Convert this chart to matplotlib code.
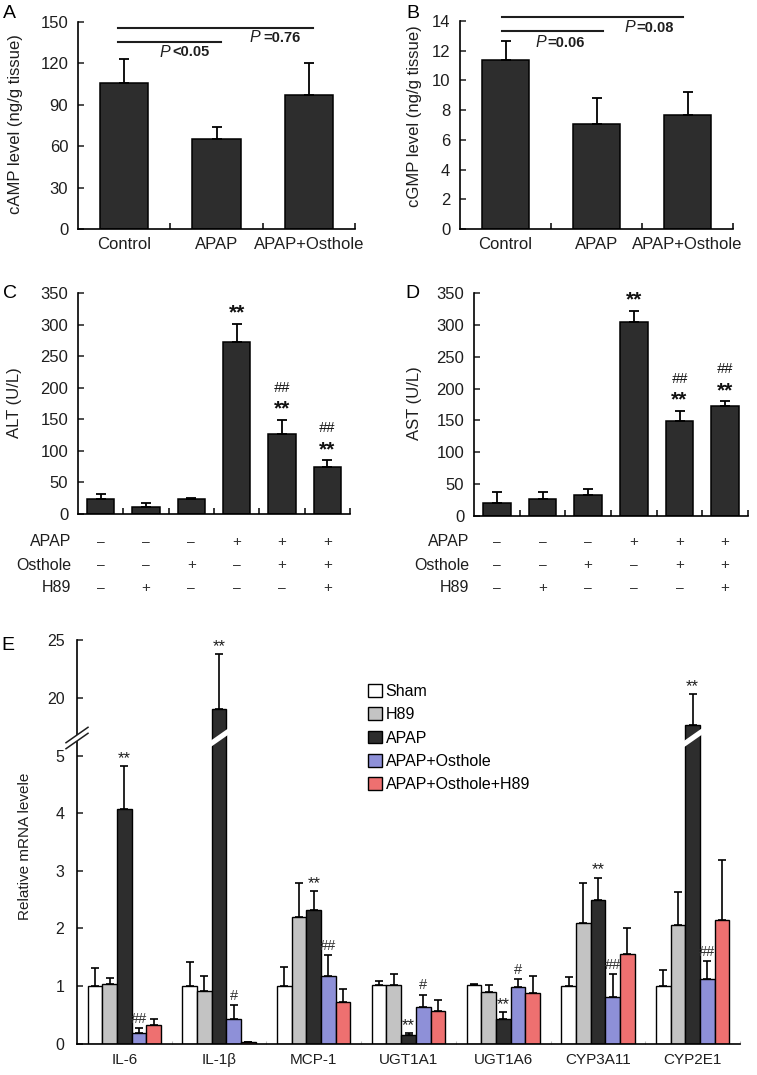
import numpy as np
import matplotlib
matplotlib.use("Agg")
import matplotlib.pyplot as plt
from matplotlib.patches import Patch, Polygon
from matplotlib.lines import Line2D

plt.rcParams['font.family'] = ['Liberation Sans', 'DejaVu Sans']

# ---------------- data ----------------
groups_ab = ['Control', 'APAP', 'APAP+Osthole']
camp = [106, 65, 97]
camp_err = [17, 9, 23]
cgmp = [11.4, 7.1, 7.7]
cgmp_err = [1.25, 1.7, 1.5]

alt = [24, 11, 24, 273, 127, 75]
alt_err = [7, 7, 2, 28, 22, 10]
ast = [21, 27, 33, 304, 149, 173]
ast_err = [17, 10, 9, 18, 16, 7]
cond_names = ['APAP', 'Osthole', 'H89']
cond_apap = ['–', '–', '–', '+', '+', '+']
cond_osthole = ['–', '–', '+', '–', '+', '+']
cond_h89 = ['–', '+', '–', '–', '–', '+']
alt_star = ['', '', '', '**', '**', '**']
alt_hash = ['', '', '', '', '##', '##']
ast_star = ['', '', '', '**', '**', '**']
ast_hash = ['', '', '', '', '##', '##']

genes = ['IL-6', 'IL-1β', 'MCP-1', 'UGT1A1', 'UGT1A6', 'CYP3A11', 'CYP2E1']
series_names = ['Sham', 'H89', 'APAP', 'APAP+Osthole', 'APAP+Osthole+H89']
sham = [1.0, 1.0, 1.0, 1.01, 1.01, 1.0, 1.0]
sham_err = [0.31, 0.41, 0.33, 0.08, 0.02, 0.16, 0.27]
h89 = [1.04, 0.92, 2.19, 1.02, 0.90, 2.10, 2.05]
h89_err = [0.09, 0.26, 0.60, 0.18, 0.11, 0.68, 0.58]
apap = [4.07, 19.0, 2.32, 0.14, 0.43, 2.49, 17.6]
apap_err = [0.75, 4.75, 0.32, 0.04, 0.11, 0.39, 2.7]
ost = [0.19, 0.43, 1.18, 0.63, 0.98, 0.81, 1.12]
ost_err = [0.08, 0.24, 0.35, 0.22, 0.14, 0.40, 0.31]
ost_h89 = [0.32, 0.03, 0.72, 0.57, 0.87, 1.56, 2.14]
ost_h89_err = [0.10, 0.0, 0.22, 0.18, 0.30, 0.44, 1.04]
apap_star = ['**'] * 7
ost_hash = ['##', '#', '##', '#', '#', '##', '##']

# ---------------- styling ----------------
W, H = 757, 1075
DARK = '#2d2d2d'
GREY = '#c3c3c3'
BLUE = '#8e90d8'
RED = '#ee7070'
TXT = '#1e1e1e'
colors_e = ['white', GREY, DARK, BLUE, RED]

fig = plt.figure(figsize=(W / 100, H / 100), dpi=100)


def px_rect(l, t, r, b):
    return [l / W, 1 - b / H, (r - l) / W, (b - t) / H]


def fxy(x, y):
    return (x / W, 1 - y / H)


def style_axes(ax, fs=12):
    for s in ['top', 'right']:
        ax.spines[s].set_visible(False)
    for s in ['left', 'bottom']:
        ax.spines[s].set_linewidth(1.2)
    ax.tick_params(axis='y', direction='in', length=4, width=1.1, pad=7, labelsize=fs, colors=TXT)
    ax.tick_params(axis='x', which='major', length=0, pad=6, labelsize=fs, colors=TXT)
    ax.tick_params(axis='x', which='minor', direction='in', length=4, width=1.1)


def simple_bars(ax, labels, vals, errs, ymax, yticks, capsize=3.6, width=0.52, fs=12):
    n = len(vals)
    x = np.arange(n) + 0.5
    ax.bar(x, vals, width=width, color=DARK, edgecolor='black', linewidth=1.1, zorder=2)
    ax.errorbar(x, vals, yerr=[np.zeros(n), errs], fmt='none', ecolor='black',
                elinewidth=1.3, capsize=capsize, capthick=1.3, zorder=3)
    ax.set_xlim(0, n)
    ax.set_ylim(0, ymax)
    ax.set_yticks(yticks)
    ax.set_xticks(x)
    ax.set_xticklabels(labels)
    ax.set_xticks(np.arange(1, n + 1), minor=True)
    style_axes(ax, fs)
    return x


# ---------------- Panel A ----------------
axA = fig.add_axes(px_rect(78, 22, 355, 229))
simple_bars(axA, groups_ab, camp, camp_err, 150, [0, 30, 60, 90, 120, 150])
fig.text(*fxy(16, 124), 'cAMP level (ng/g tissue)', rotation=90, ha='center', va='center', fontsize=12, color=TXT)
axA.plot([0.43, 2.55], [146, 146], color=TXT, lw=1.5, clip_on=False)
axA.plot([0.43, 1.55], [135.5, 135.5], color=TXT, lw=1.5, clip_on=False)
axA.text(1.0, 128, 'P', style='italic', ha='right', va='center', fontsize=11.5, color=TXT)
axA.text(1.02, 128, '<0.05', weight='bold', ha='left', va='center', fontsize=10.5, color=TXT)
axA.text(1.97, 138.5, 'P', style='italic', ha='right', va='center', fontsize=11.5, color=TXT)
axA.text(2.01, 138.5, '=0.76', weight='bold', ha='left', va='center', fontsize=10.5, color=TXT)
fig.text(*fxy(3, 14), 'A', fontsize=14, ha='left', va='center')

# ---------------- Panel B ----------------
axB = fig.add_axes(px_rect(460, 21, 733, 229))
simple_bars(axB, groups_ab, cgmp, cgmp_err, 14, [0, 2, 4, 6, 8, 10, 12, 14])
fig.text(*fxy(415, 116), 'cGMP level (ng/g tissue)', rotation=90, ha='center', va='center', fontsize=12, color=TXT)
axB.plot([0.46, 2.45], [14.3, 14.3], color=TXT, lw=1.5, clip_on=False)
axB.plot([0.46, 1.57], [13.3, 13.3], color=TXT, lw=1.5, clip_on=False)
axB.text(0.945, 12.52, 'P', style='italic', ha='right', va='center', fontsize=11.5, color=TXT)
axB.text(0.96, 12.52, '=0.06', weight='bold', ha='left', va='center', fontsize=10.5, color=TXT)
axB.text(1.92, 13.53, 'P', style='italic', ha='right', va='center', fontsize=11.5, color=TXT)
axB.text(1.935, 13.53, '=0.08', weight='bold', ha='left', va='center', fontsize=10.5, color=TXT)
fig.text(*fxy(406, 14), 'B', fontsize=14, ha='left', va='center')


# ---------------- Panels C & D ----------------
def cond_panel(rect, vals, errs, stars, hashes, ylab, ylab_xy, letter_xy, letter, label_x_px):
    ax = fig.add_axes(px_rect(*rect))
    x = simple_bars(ax, [''] * 6, vals, errs, 350, [0, 50, 100, 150, 200, 250, 300, 350], width=0.6)
    ax.set_xticklabels([])
    fig.text(*fxy(*ylab_xy), ylab, rotation=90, ha='center', va='center', fontsize=12, color=TXT)
    fig.text(*fxy(*letter_xy), letter, fontsize=14, ha='left', va='center')
    for xi, v, e, s, h in zip(x, vals, errs, stars, hashes):
        top = v + e
        if s:
            ax.annotate(s, (xi, top), xytext=(0, 1), textcoords='offset points',
                        ha='center', va='bottom', fontsize=15, weight='bold', color='#111111')
        if h:
            ax.annotate(h, (xi, top), xytext=(0, 18), textcoords='offset points',
                        ha='center', va='bottom', fontsize=10.5, style='italic', color='#111111')
    # condition table
    trans = ax.get_xaxis_transform()
    axh_px = rect[3] - rect[1]
    row_y = [542, 565, 588]
    rows = [cond_apap, cond_osthole, cond_h89]
    for name, ry, row in zip(cond_names, row_y, rows):
        yy = -(ry - rect[3]) / axh_px
        fig.text(*fxy(label_x_px, ry), name, ha='right', va='center', fontsize=11.5, color=TXT)
        for xi, sgn in zip(x, row):
            ax.text(xi, yy, sgn, transform=trans, ha='center', va='center',
                    fontsize=11 if sgn == '+' else 10, color='#333333', clip_on=False)
    return ax


cond_panel((78, 293, 350, 514), alt, alt_err, alt_star, alt_hash, 'ALT (U/L)', (15, 403), (3, 293), 'C', 71)
cond_panel((474, 293, 748, 516), ast, ast_err, ast_star, ast_hash, 'AST (U/L)', (415, 403), (405, 293), 'D', 469)

# ---------------- Panel E ----------------
break_y = 738
axE = fig.add_axes(px_rect(77, break_y, 740, 1043.5))
axEu = fig.add_axes(px_rect(77, 640, 740, break_y))
lo_top = (1043.5 - break_y) / 57.6
up_bot = 20 - (break_y - 697.7) / 11.55

series = [sham, h89, apap, ost, ost_h89]
series_err = [sham_err, h89_err, apap_err, ost_err, ost_h89_err]
ng = len(genes)
xc = np.arange(ng) + 0.5
bw = 0.155
offsets = (np.arange(5) - 2) * bw
for ax in (axE, axEu):
    for k in range(5):
        ax.bar(xc + offsets[k], series[k], width=bw, color=colors_e[k], edgecolor='black',
               linewidth=1.0, zorder=2)
        ax.errorbar(xc + offsets[k], series[k], yerr=[np.zeros(ng), series_err[k]], fmt='none',
                    ecolor='black', elinewidth=1.2, capsize=2.6, capthick=1.2, zorder=3)
    ax.set_xlim(0, ng)
    for s in ['top', 'right']:
        ax.spines[s].set_visible(False)
    ax.spines['left'].set_linewidth(1.2)
    ax.tick_params(axis='y', direction='in', length=4, width=1.1, pad=9, labelsize=11.5, colors=TXT)

axE.set_ylim(0, lo_top)
axE.set_yticks([0, 1, 2, 3, 4, 5])
axE.spines['bottom'].set_linewidth(1.2)
axE.set_xticks(xc)
axE.set_xticklabels(genes)
axE.tick_params(axis='x', which='major', length=0, pad=7, labelsize=11, colors=TXT)
axE.set_xticks(np.arange(1, ng + 1), minor=True)
axE.tick_params(axis='x', which='minor', direction='in', length=2, width=0.8, color='#bbbbbb')

axEu.set_ylim(up_bot, 25)
axEu.set_yticks([20, 25])
axEu.spines['bottom'].set_visible(False)
axEu.set_xticks([])

# significance marks
for i in range(ng):
    xa = xc[i] + offsets[2]
    top = apap[i] + apap_err[i]
    ax = axEu if top > lo_top else axE
    ax.annotate(apap_star[i], (xa, top), xytext=(0, 0), textcoords='offset points',
                ha='center', va='bottom', fontsize=12, color=TXT, annotation_clip=False)
    xo = xc[i] + offsets[3]
    topo = ost[i] + ost_err[i]
    axE.annotate(ost_hash[i], (xo, topo), xytext=(0, 1.5), textcoords='offset points',
                 ha='center', va='bottom', fontsize=10.5, color='#333333')

# break marks
s = 0.7
half = 3.0


def band(x0, x1, yc, h):
    pts = [(x0, yc + h), (x1, yc + h - s * (x1 - x0)), (x1, yc - h - s * (x1 - x0)), (x0, yc - h)]
    return [fxy(px, py) for px, py in pts]


# spine break
sx0, sx1 = 66, 88
yc0 = break_y + s * (77 - sx0)
fig.patches.append(Polygon(band(sx0 + 2, sx1 - 2, yc0 - s * 2, half), closed=True, transform=fig.transFigure,
                           facecolor='white', edgecolor='none', zorder=5))
for d in (-half, half):
    p0 = fxy(sx0, yc0 + d)
    p1 = fxy(sx1, yc0 + d - s * (sx1 - sx0))
    fig.lines.append(Line2D([p0[0], p1[0]], [p0[1], p1[1]], transform=fig.transFigure,
                            color=TXT, lw=1.1, zorder=6))

# bar breaks
for i in range(ng):
    if apap[i] > lo_top:
        xa = xc[i] + offsets[2]
        d0 = axE.transData.transform((xa - bw / 2, 0))
        d1 = axE.transData.transform((xa + bw / 2, 0))
        bx0, bx1 = d0[0] - 2, d1[0] + 2
        ycb = break_y + s * (bx1 - bx0) / 2
        fig.patches.append(Polygon(band(bx0, bx1, ycb, 3.2), closed=True, transform=fig.transFigure,
                                   facecolor='white', edgecolor='none', zorder=5))

fig.text(*fxy(25, 846), 'Relative mRNA levele', rotation=90, ha='center', va='center', fontsize=11, color=TXT)
fig.text(*fxy(1, 645), 'E', fontsize=14, ha='left', va='center')

handles = [Patch(facecolor=c, edgecolor='black', linewidth=1.0) for c in colors_e]
fig.legend(handles, series_names, loc='upper left', bbox_to_anchor=fxy(368, 684),
           bbox_transform=fig.transFigure, frameon=False, fontsize=11.5, handlelength=0.85,
           handleheight=0.85, handletextpad=0.25, labelspacing=0.52, borderpad=0, borderaxespad=0)

fig.savefig('out.png', dpi=100)
